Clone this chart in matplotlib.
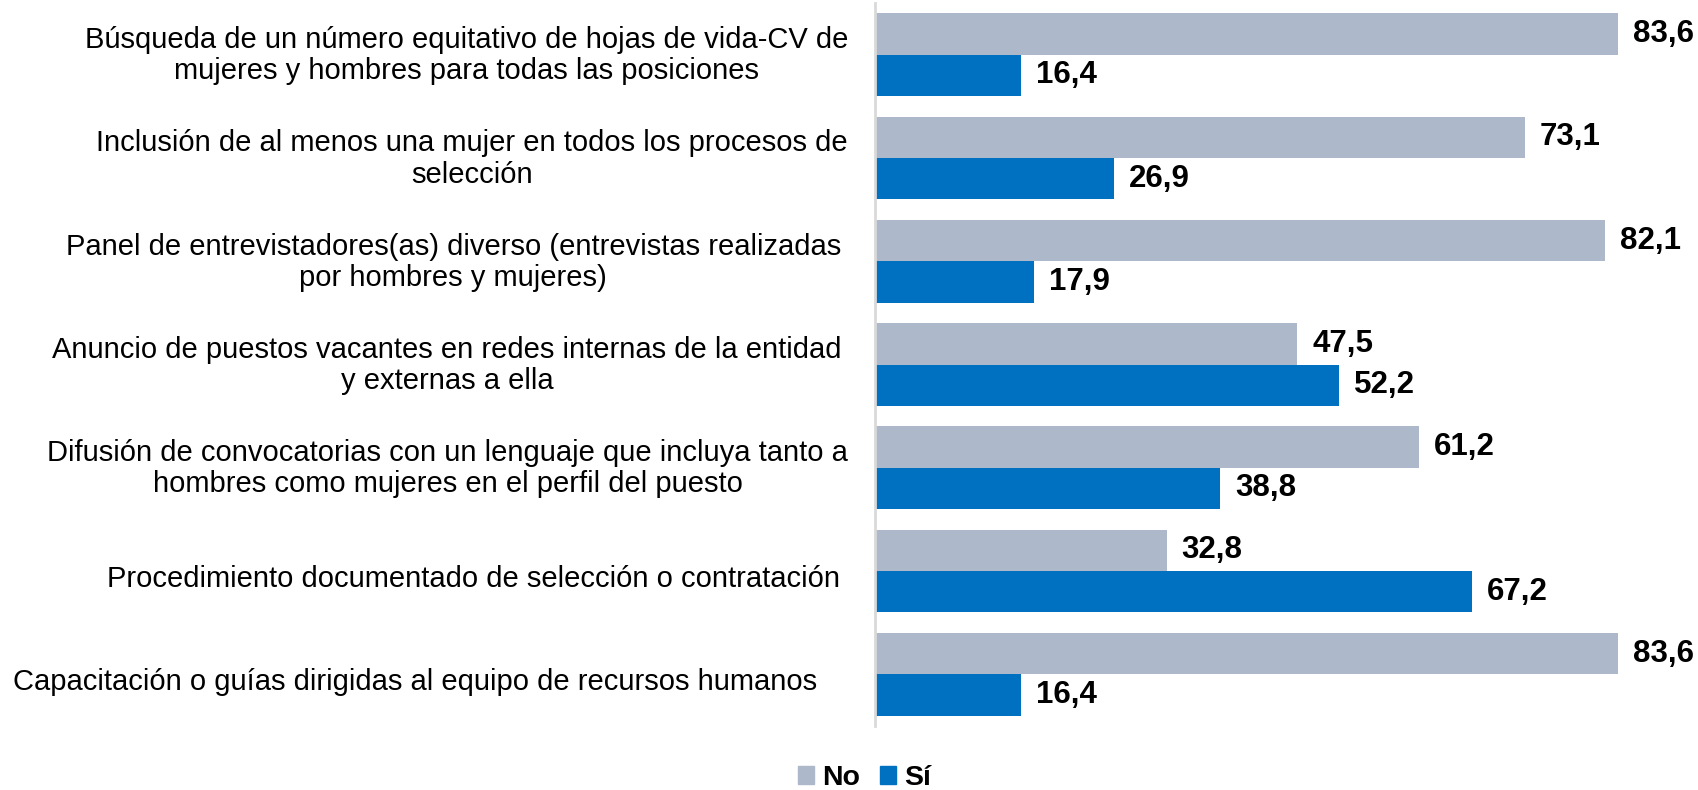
import numpy as np
import matplotlib
matplotlib.use('Agg')
import matplotlib.pyplot as plt
from matplotlib.patches import Patch

plt.rcParams['font.family'] = ['Liberation Sans', 'DejaVu Sans']

categories = [
    'Búsqueda de un número equitativo de hojas de vida-CV de\nmujeres y hombres para todas las posiciones',
    'Inclusión de al menos una mujer en todos los procesos de\nselección',
    'Panel de entrevistadores(as) diverso (entrevistas realizadas\npor hombres y mujeres)',
    'Anuncio de puestos vacantes en redes internas de la entidad\ny externas a ella',
    'Difusión de convocatorias con un lenguaje que incluya tanto a\nhombres como mujeres en el perfil del puesto',
    'Procedimiento documentado de selección o contratación',
    'Capacitación o guías dirigidas al equipo de recursos humanos',
]
no_vals = [83.6, 73.1, 82.1, 47.5, 61.2, 32.8, 83.6]
si_vals = [16.4, 26.9, 17.9, 52.2, 38.8, 67.2, 16.4]
series_names = ['No', 'Sí']

col_no = '#ADB9CA'
col_si = '#0070C0'

# label placement (pixels left of the axis / below the group centre)
label_pad = [27, 27, 34, 33, 27, 35, 58]
label_drop = [1, 1, 1, 1, 1, 8, 8]

fig = plt.figure(figsize=(16.99, 7.90), dpi=100)
ax = fig.add_axes([0.515, 0.081, 0.485, 0.9152])

y = np.arange(len(categories))
h = 0.4
ax.barh(y - h / 2, no_vals, height=h, color=col_no, label=series_names[0])
ax.barh(y + h / 2, si_vals, height=h, color=col_si, label=series_names[1])

ax.set_xlim(0, 92.7)
ax.set_ylim(len(categories) - 0.5, -0.5)

def fmt(v):
    return '{0:.1f}'.format(v).replace('.', ',')

for i in range(len(categories)):
    ax.annotate(fmt(no_vals[i]), xy=(no_vals[i], y[i] - h / 2), xytext=(15, 0),
                textcoords='offset pixels', ha='left', va='center',
                fontsize=22.5, fontweight='bold', annotation_clip=False)
    ax.annotate(fmt(si_vals[i]), xy=(si_vals[i], y[i] + h / 2), xytext=(15, 0),
                textcoords='offset pixels', ha='left', va='center',
                fontsize=22.5, fontweight='bold', annotation_clip=False)
    ax.annotate(categories[i], xy=(0, y[i]), xycoords=('axes fraction', 'data'),
                xytext=(-label_pad[i], -label_drop[i]), textcoords='offset pixels',
                ha='right', va='center', multialignment='center',
                fontsize=21, linespacing=1.15, annotation_clip=False)

ax.set_xticks([])
ax.set_yticks([])
for s in ['top', 'right', 'bottom']:
    ax.spines[s].set_visible(False)
ax.spines['left'].set_color('#D9D9D9')
ax.spines['left'].set_linewidth(2)

handles = [Patch(color=col_no), Patch(color=col_si)]
fig.legend(handles, series_names, loc='center', bbox_to_anchor=(865 / 1699, 12 / 790),
           ncol=2, frameon=False, prop={'size': 20.5, 'weight': 'bold'},
           handlelength=0.55, handleheight=0.55, handletextpad=0.3,
           columnspacing=0.7, borderpad=0)

fig.savefig('out.png', dpi=100)
